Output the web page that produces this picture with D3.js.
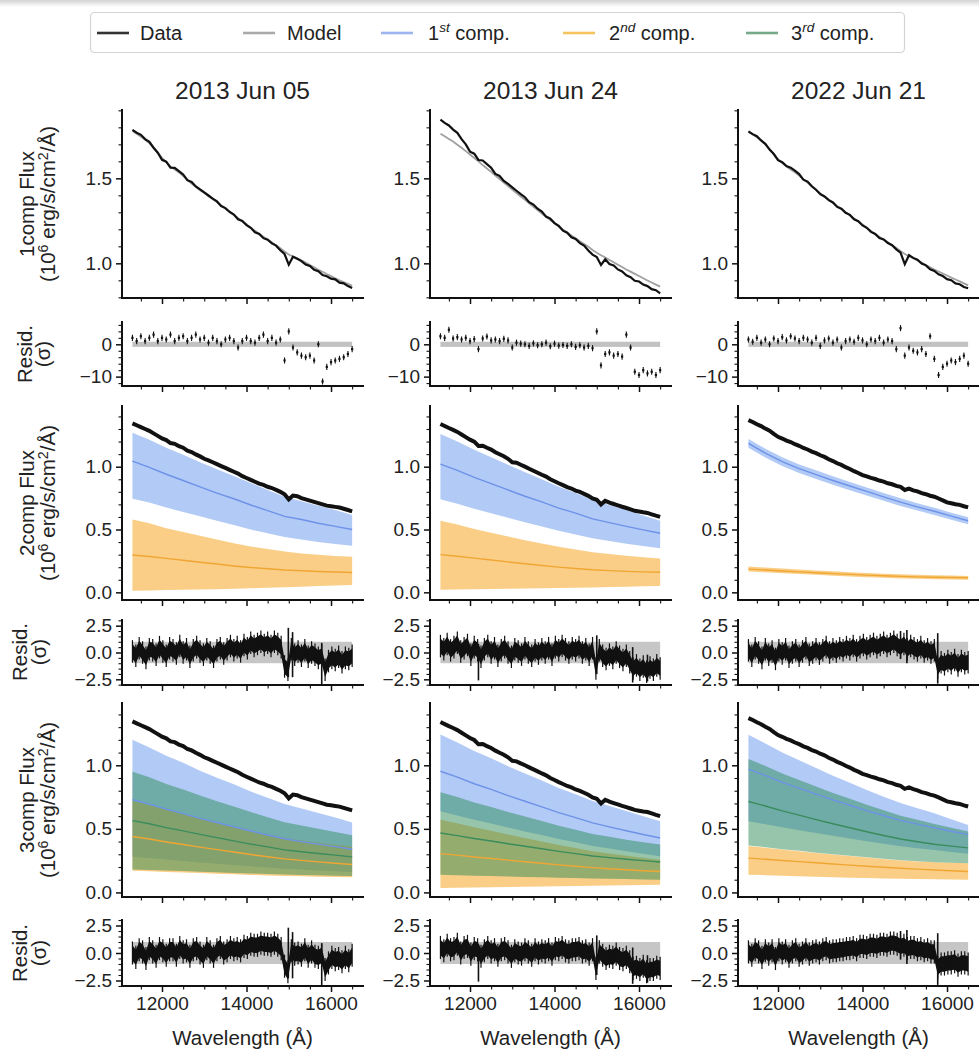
<!DOCTYPE html>
<html>
<head>
<meta charset="utf-8">
<script src="https://cdn.jsdelivr.net/npm/d3@7"></script>
<style>
  body { margin: 0; background: #ffffff; }
  svg text { font-family: "Liberation Sans", Arial, Helvetica, sans-serif; fill: #222; }
</style>
</head>
<body>
<svg id="fig" width="979" height="1051"></svg>
<script>
// ---------------- wavelength grids (Angstrom) ----------------
const waveFine = [11300,11400,11500,11600,11700,11800,11900,12000,12100,12200,
  12300,12400,12500,12600,12700,12800,12900,13000,13100,13200,
  13300,13400,13500,13600,13700,13800,13900,14000,14100,14200,
  14300,14400,14500,14600,14700,14800,14900,15000,15100,15200,
  15300,15400,15500,15600,15700,15800,15900,16000,16100,16200,
  16300,16400,16500];
const waveComp = [11300,11700,12100,12500,12900,13300,13700,14100,14500,14900,15300,15700,16100,16500];
const waveResid = [11300,11380,11460,11540,11620,11700,11780,11860,11940,12020,
  12100,12180,12260,12340,12420,12500,12580,12660,12740,12820,
  12900,12980,13060,13140,13220,13300,13380,13460,13540,13620,
  13700,13780,13860,13940,14020,14100,14180,14260,14340,14420,
  14500,14580,14660,14740,14820,14900,14980,15060,15140,15220,
  15300,15380,15460,15540,15620,15700,15780,15860,15940,16020,
  16100,16180,16260,16340,16420,16500];

const epochTitles = ["2013 Jun 05", "2013 Jun 24", "2022 Jun 21"];

// ---------------- 2013 Jun 05 ----------------
const flux1cJun05 = [1.785,1.768,1.756,1.731,1.715,1.680,1.651,1.609,1.598,1.563,
  1.562,1.543,1.523,1.489,1.479,1.452,1.435,1.417,1.399,1.381,
  1.364,1.337,1.325,1.302,1.287,1.259,1.249,1.225,1.209,1.183,
  1.173,1.148,1.139,1.117,1.104,1.077,1.055,0.992,1.039,1.027,
  1.013,0.993,0.984,0.962,0.954,0.931,0.924,0.910,0.906,0.886,
  0.882,0.866,0.855];
const model1cJun05 = [1.778,1.762,1.745,1.727,1.707,1.681,1.650,1.620,1.595,1.570,
  1.552,1.535,1.514,1.490,1.470,1.450,1.430,1.413,1.394,1.378,
  1.360,1.341,1.323,1.305,1.286,1.266,1.248,1.230,1.210,1.191,
  1.174,1.156,1.140,1.124,1.107,1.089,1.070,1.052,1.040,1.030,
  1.018,1.004,0.990,0.976,0.962,0.950,0.937,0.925,0.912,0.900,
  0.890,0.879,0.868];
const resid1cJun05 = [2,1,2.5,1,2,3,1,2,1.5,3,
  1,2,2.5,1,2,3,1.5,2,0.5,2,
  1,0,1.5,2,1,-1,1,2,1,0.5,
  2,3,1,2,0.5,1.5,-5,4,-1,-2.5,
  -3.5,-4,-3.5,-5,0,-11.5,-7,-5.5,-5,-4.5,
  -4,-3,-1.5];
const fluxJun05 = [1.345,1.330,1.315,1.300,1.285,1.265,1.245,1.225,1.212,1.188,
  1.182,1.163,1.151,1.128,1.117,1.098,1.082,1.063,1.050,1.035,
  1.020,1.005,0.990,0.975,0.960,0.945,0.925,0.910,0.895,0.880,
  0.865,0.855,0.840,0.830,0.815,0.800,0.780,0.740,0.770,0.765,
  0.750,0.740,0.730,0.720,0.710,0.700,0.690,0.685,0.680,0.675,
  0.665,0.655,0.645];
// two-component fit: [lower, median, upper]
const twoC1Jun05 = [
  [0.745,0.715,0.675,0.640,0.605,0.570,0.535,0.500,0.470,0.440,0.420,0.400,0.385,0.370],
  [1.045,0.995,0.940,0.890,0.840,0.790,0.745,0.695,0.650,0.605,0.580,0.550,0.525,0.500],
  [1.270,1.215,1.150,1.095,1.035,0.980,0.925,0.870,0.815,0.760,0.725,0.690,0.655,0.615]];
const twoC2Jun05 = [
  [0.012,0.014,0.018,0.020,0.022,0.025,0.028,0.032,0.036,0.040,0.045,0.050,0.054,0.058],
  [0.297,0.285,0.270,0.255,0.240,0.225,0.210,0.198,0.188,0.178,0.172,0.166,0.162,0.158],
  [0.580,0.550,0.510,0.480,0.450,0.420,0.390,0.365,0.345,0.325,0.310,0.300,0.290,0.283]];
// three-component fit
const threeC1Jun05 = [
  [0.280,0.270,0.258,0.248,0.236,0.226,0.215,0.205,0.196,0.187,0.180,0.173,0.166,0.160],
  [0.730,0.695,0.655,0.620,0.583,0.550,0.517,0.483,0.452,0.422,0.400,0.380,0.360,0.340],
  [1.200,1.140,1.075,1.020,0.958,0.903,0.850,0.793,0.745,0.695,0.660,0.625,0.590,0.550]];
const threeC2Jun05 = [
  [0.170,0.166,0.161,0.157,0.152,0.147,0.143,0.138,0.134,0.130,0.127,0.124,0.122,0.120],
  [0.440,0.420,0.397,0.377,0.356,0.337,0.318,0.298,0.281,0.264,0.252,0.240,0.230,0.220],
  [0.720,0.688,0.650,0.618,0.583,0.550,0.518,0.485,0.457,0.428,0.408,0.390,0.375,0.360]];
const threeC3Jun05 = [
  [0.180,0.177,0.172,0.168,0.163,0.158,0.153,0.149,0.145,0.141,0.138,0.135,0.132,0.130],
  [0.565,0.540,0.510,0.484,0.457,0.431,0.405,0.380,0.358,0.335,0.320,0.306,0.293,0.280],
  [0.950,0.905,0.853,0.810,0.762,0.718,0.676,0.632,0.592,0.552,0.526,0.500,0.475,0.450]];
const resid2cJun05 = [0.1,-0.3,0.4,0.0,-0.5,0.3,0.2,-0.2,0.5,0.1,
  -0.3,0.4,0.2,-0.1,0.6,0.0,0.3,-0.4,0.2,0.5,
  0.1,-0.2,0.3,0.0,-0.4,0.2,0.4,-0.1,0.3,0.6,
  0.2,0.5,0.1,0.7,0.4,0.9,0.6,0.8,1.0,0.7,
  0.9,0.6,1.0,0.8,0.5,-1.3,-1.6,0.3,-0.2,0.1,
  -0.3,0.2,-0.4,0.0,-0.2,-0.5,-0.3,-1.6,-0.8,-0.5,
  -0.7,-0.4,-0.9,-0.5,-0.6,-0.3];
const resid3cJun05 = [0.0,-0.4,0.3,0.1,-0.5,0.4,0.1,-0.3,0.4,0.2,
  -0.2,0.3,0.3,-0.2,0.5,0.1,0.2,-0.3,0.3,0.4,
  0.0,-0.3,0.4,0.1,-0.3,0.3,0.5,0.0,0.2,0.5,
  0.3,0.4,0.2,0.6,0.5,0.8,0.7,0.7,0.9,0.8,
  0.8,0.7,0.9,0.7,0.4,-1.2,-1.7,0.2,-0.1,0.0,
  -0.2,0.3,-0.3,0.1,-0.3,-0.4,-0.2,-1.5,-0.9,-0.4,
  -0.6,-0.5,-0.8,-0.4,-0.7,-0.2];
// long error bars at bad pixels: [wavelength, low, high]
const spikesJun05 = [[14990,-2.3,2.3],[15090,-2.3,1.9],[15780,-3.0,0.9]];

// ---------------- 2013 Jun 24 ----------------
const flux1cJun24 = [1.845,1.826,1.811,1.787,1.768,1.731,1.700,1.657,1.645,1.608,
  1.605,1.584,1.562,1.526,1.514,1.485,1.467,1.447,1.427,1.407,
  1.389,1.360,1.346,1.321,1.305,1.275,1.263,1.237,1.220,1.192,
  1.180,1.153,1.143,1.119,1.104,1.075,1.051,1.037,0.990,1.024,
  0.996,0.987,0.964,0.952,0.930,0.918,0.897,0.893,0.875,0.866,
  0.848,0.842,0.823];
const model1cJun24 = [1.762,1.748,1.732,1.716,1.698,1.680,1.660,1.640,1.620,1.600,
  1.578,1.558,1.538,1.516,1.496,1.475,1.454,1.434,1.413,1.393,
  1.373,1.353,1.333,1.313,1.293,1.273,1.254,1.236,1.217,1.199,
  1.181,1.164,1.147,1.130,1.114,1.098,1.078,1.062,1.048,1.034,
  1.020,1.006,0.992,0.978,0.964,0.951,0.938,0.925,0.912,0.899,
  0.887,0.875,0.863];
const resid1cJun24 = [2.5,2.0,4.5,1.8,2.2,1.5,2.0,1.0,1.6,-1.5,
  1.8,2.4,1.2,1.5,1.0,1.7,1.2,-1.0,0.5,0.2,
  0.0,-0.5,0.3,-0.3,0.0,0.5,-0.6,0.2,-0.4,-0.2,
  -0.5,0.0,-0.8,-0.3,-1.0,-0.5,-1.2,4.0,-6.5,-3.0,
  -2.5,-3.5,-3.0,-3.8,3.0,-1.0,-8.5,-9.5,-8.0,-9.0,
  -8.5,-9.5,-8.0];
const fluxJun24 = [1.340,1.324,1.308,1.293,1.277,1.256,1.235,1.215,1.199,1.165,
  1.167,1.151,1.136,1.115,1.099,1.083,1.063,1.035,1.031,1.015,
  1.000,0.984,0.968,0.952,0.936,0.921,0.900,0.884,0.868,0.853,
  0.837,0.826,0.810,0.799,0.784,0.768,0.747,0.737,0.700,0.729,
  0.714,0.703,0.692,0.681,0.671,0.660,0.649,0.643,0.637,0.632,
  0.621,0.610,0.600];
const twoC1Jun24 = [
  [0.740,0.705,0.665,0.630,0.593,0.557,0.523,0.490,0.460,0.430,0.408,0.387,0.368,0.350],
  [1.020,0.970,0.915,0.865,0.815,0.765,0.720,0.670,0.630,0.585,0.555,0.525,0.497,0.470],
  [1.260,1.200,1.135,1.075,1.015,0.955,0.900,0.840,0.790,0.735,0.695,0.655,0.612,0.570]];
const twoC2Jun24 = [
  [0.020,0.022,0.024,0.026,0.028,0.030,0.032,0.034,0.036,0.039,0.042,0.045,0.048,0.050],
  [0.300,0.287,0.272,0.257,0.242,0.228,0.214,0.201,0.190,0.180,0.173,0.167,0.163,0.160],
  [0.570,0.540,0.505,0.475,0.445,0.415,0.388,0.362,0.340,0.320,0.305,0.292,0.280,0.270]];
const threeC1Jun24 = [
  [0.638,0.606,0.572,0.542,0.510,0.480,0.451,0.421,0.394,0.366,0.345,0.324,0.304,0.284],
  [0.953,0.907,0.855,0.810,0.762,0.717,0.673,0.628,0.588,0.547,0.516,0.485,0.456,0.428],
  [1.242,1.180,1.112,1.055,0.993,0.935,0.880,0.822,0.772,0.720,0.680,0.640,0.600,0.560]];
const threeC2Jun24 = [
  [0.035,0.037,0.039,0.041,0.043,0.045,0.047,0.049,0.051,0.053,0.055,0.057,0.058,0.060],
  [0.305,0.293,0.279,0.267,0.254,0.241,0.229,0.217,0.206,0.195,0.186,0.178,0.171,0.165],
  [0.572,0.545,0.513,0.486,0.456,0.428,0.401,0.373,0.349,0.324,0.306,0.289,0.273,0.257]];
const threeC3Jun24 = [
  [0.139,0.136,0.132,0.129,0.126,0.122,0.119,0.116,0.113,0.110,0.107,0.105,0.102,0.100],
  [0.467,0.447,0.424,0.405,0.383,0.363,0.344,0.323,0.305,0.287,0.274,0.261,0.250,0.239],
  [0.787,0.750,0.708,0.672,0.633,0.597,0.562,0.525,0.493,0.460,0.437,0.415,0.395,0.376]];
const resid2cJun24 = [0.6,0.3,0.8,0.2,0.5,0.9,0.1,0.4,0.7,-0.2,
  0.5,0.2,-0.4,0.3,0.6,0.0,0.4,-0.3,0.2,0.5,
  0.0,-0.4,0.3,0.1,-0.2,0.4,0.0,-0.3,0.2,-0.1,
  0.3,0.0,0.4,-0.2,0.5,0.2,0.6,0.3,0.0,0.4,
  0.2,0.5,0.0,0.3,-0.2,0.4,-1.5,0.2,-0.3,-0.6,
  -0.2,-0.5,0.0,-0.4,-0.7,-0.3,-0.9,-1.5,-1.2,-1.6,
  -1.3,-1.8,-1.4,-1.6,-1.2,-1.5];
const resid3cJun24 = [0.5,0.2,0.7,0.3,0.4,0.8,0.0,0.5,0.6,-0.1,
  0.4,0.3,-0.3,0.2,0.5,0.1,0.3,-0.2,0.3,0.4,
  0.1,-0.3,0.2,0.0,-0.1,0.3,0.1,-0.2,0.3,0.0,
  0.2,0.1,0.3,-0.1,0.4,0.3,0.5,0.2,0.1,0.3,
  0.3,0.4,0.1,0.2,-0.1,0.3,-1.4,0.1,-0.2,-0.5,
  -0.3,-0.4,-0.1,-0.5,-0.6,-0.4,-0.8,-1.4,-1.3,-1.5,
  -1.2,-1.7,-1.5,-1.5,-1.3,-1.4];
const spikesJun24 = [[12200,-2.6,0.8],[15000,-2.0,1.6],[15850,-2.8,0.5],[16200,-2.7,-0.2]];

// ---------------- 2022 Jun 21 ----------------
const flux1cJun21 = [1.776,1.760,1.748,1.723,1.703,1.669,1.643,1.607,1.595,1.572,
  1.563,1.545,1.525,1.492,1.481,1.453,1.433,1.407,1.393,1.372,
  1.358,1.332,1.321,1.297,1.285,1.259,1.248,1.223,1.209,1.185,
  1.173,1.149,1.141,1.119,1.107,1.082,1.063,0.995,1.048,1.032,
  1.021,0.999,0.988,0.965,0.955,0.935,0.925,0.907,0.901,0.882,
  0.877,0.861,0.853];
const model1cJun21 = [1.773,1.758,1.741,1.722,1.698,1.672,1.642,1.612,1.590,1.570,
  1.552,1.536,1.516,1.494,1.474,1.453,1.432,1.413,1.393,1.375,
  1.356,1.337,1.319,1.301,1.283,1.264,1.246,1.228,1.209,1.191,
  1.173,1.156,1.140,1.124,1.107,1.090,1.072,1.055,1.042,1.030,
  1.017,1.004,0.990,0.977,0.964,0.952,0.940,0.928,0.916,0.905,
  0.894,0.882,0.870];
const resid1cJun21 = [1.5,0.8,2.0,0.5,1.5,0.0,1.8,1.0,2.2,1.2,
  2.5,1.8,1.0,2.0,1.5,0.5,2.0,-0.5,1.2,1.8,
  0.5,1.5,-1.0,1.0,1.5,0.8,2.0,1.2,0.0,1.5,
  1.0,2.0,0.5,1.5,1.0,-1.5,5.0,-3.5,-1.0,-2.0,
  -2.5,-1.5,-3.0,2.5,-4.5,-9.5,-7.0,-6.0,-5.0,-5.5,
  -4.5,-3.5,-6.0];
const fluxJun21 = [1.371,1.356,1.338,1.323,1.303,1.286,1.261,1.238,1.224,1.208,
  1.196,1.179,1.166,1.149,1.137,1.120,1.108,1.091,1.078,1.059,
  1.045,1.027,1.014,0.996,0.982,0.964,0.950,0.933,0.923,0.911,
  0.902,0.890,0.881,0.868,0.860,0.847,0.839,0.815,0.826,0.812,
  0.803,0.789,0.781,0.769,0.761,0.747,0.732,0.716,0.709,0.701,
  0.696,0.685,0.676];
const twoC1Jun21 = [
  [1.150,1.073,1.005,0.950,0.903,0.857,0.813,0.771,0.729,0.688,0.651,0.616,0.578,0.542],
  [1.185,1.108,1.040,0.984,0.937,0.890,0.846,0.803,0.760,0.718,0.680,0.645,0.606,0.570],
  [1.220,1.143,1.075,1.018,0.971,0.923,0.879,0.835,0.791,0.748,0.709,0.674,0.634,0.598]];
const twoC2Jun21 = [
  [0.165,0.159,0.152,0.145,0.139,0.132,0.126,0.121,0.116,0.111,0.108,0.105,0.103,0.101],
  [0.185,0.178,0.170,0.163,0.156,0.149,0.143,0.137,0.132,0.127,0.123,0.120,0.118,0.116],
  [0.205,0.197,0.189,0.181,0.174,0.167,0.160,0.154,0.148,0.143,0.139,0.136,0.133,0.131]];
const threeC1Jun21 = [
  [0.560,0.537,0.512,0.490,0.467,0.445,0.424,0.402,0.383,0.364,0.348,0.333,0.318,0.305],
  [0.970,0.920,0.866,0.820,0.773,0.728,0.686,0.643,0.605,0.567,0.537,0.508,0.481,0.455],
  [1.240,1.172,1.100,1.040,0.978,0.918,0.862,0.805,0.753,0.703,0.662,0.622,0.575,0.530]];
const threeC2Jun21 = [
  [0.140,0.136,0.131,0.127,0.123,0.119,0.116,0.113,0.110,0.107,0.105,0.103,0.101,0.100],
  [0.270,0.261,0.251,0.242,0.233,0.224,0.215,0.206,0.198,0.190,0.183,0.176,0.170,0.165],
  [0.365,0.352,0.337,0.324,0.311,0.298,0.286,0.274,0.263,0.252,0.244,0.237,0.233,0.230]];
const threeC3Jun21 = [
  [0.370,0.356,0.340,0.327,0.313,0.300,0.288,0.276,0.264,0.253,0.245,0.238,0.234,0.230],
  [0.715,0.680,0.641,0.608,0.573,0.540,0.509,0.477,0.448,0.420,0.399,0.379,0.364,0.350],
  [1.050,0.995,0.936,0.885,0.833,0.783,0.737,0.689,0.646,0.604,0.571,0.539,0.509,0.480]];
const resid2cJun21 = [0.2,-0.3,0.4,0.0,-0.5,0.3,-0.2,0.1,-0.6,0.2,
  -0.1,0.3,-0.4,0.0,0.2,-0.3,0.1,0.4,-0.2,0.0,
  0.3,-0.1,0.2,0.5,0.0,0.3,0.1,0.4,0.2,0.5,
  0.3,0.6,0.2,0.5,0.7,0.4,0.6,0.8,0.5,0.7,
  0.9,0.6,0.8,1.0,0.7,0.5,0.8,0.3,0.6,0.4,
  0.2,0.5,0.1,0.3,0.0,0.2,-1.4,-0.9,-1.1,-0.8,
  -1.0,-0.7,-1.2,-0.8,-1.0,-0.9];
const resid3cJun21 = [0.1,-0.2,0.3,0.1,-0.4,0.2,-0.1,0.2,-0.5,0.3,
  0.0,0.2,-0.3,0.1,0.3,-0.2,0.0,0.3,-0.1,0.1,
  0.2,0.0,0.3,0.4,0.1,0.2,0.2,0.3,0.3,0.4,
  0.4,0.5,0.3,0.6,0.6,0.5,0.7,0.7,0.6,0.8,
  0.8,0.7,0.9,0.9,0.8,0.6,0.7,0.4,0.5,0.5,
  0.3,0.4,0.2,0.3,0.1,0.1,-1.3,-1.0,-1.0,-0.9,
  -0.9,-0.8,-1.1,-0.9,-0.9,-1.0];
const spikesJun21 = [[14900,-0.6,2.0],[15050,-1.0,2.1],[15780,-2.9,1.8]];

// ---------------- axis ticks ----------------
const xMajorTicks = [12000, 14000, 16000];
const xMinorTicks = [11500, 12500, 13000, 13500, 14500, 15000, 15500, 16500];
const fluxTicks1c = [1.0, 1.5];
const fluxMinor1c = [0.8, 0.9, 1.1, 1.2, 1.3, 1.4, 1.6, 1.7, 1.8, 1.9];
const residTicks1c = [-10, 0];
const residMinor1c = [-12, -8, -6, -4, -2, 2, 4, 6];
const fluxTicks = [0.0, 0.5, 1.0];
const fluxMinor = [0.1, 0.2, 0.3, 0.4, 0.6, 0.7, 0.8, 0.9, 1.1, 1.2, 1.3, 1.4];
const residTicks = [-2.5, 0.0, 2.5];
const residMinor = [-3, -2, -1.5, -1, -0.5, 0.5, 1, 1.5, 2, 3];

// ---------------- assembled per-epoch table ----------------
const epochs = [
  { title: epochTitles[0], flux1c: flux1cJun05, model1c: model1cJun05, resid1c: resid1cJun05, flux: fluxJun05,
    two: [twoC1Jun05, twoC2Jun05], three: [threeC1Jun05, threeC2Jun05, threeC3Jun05],
    resid2c: resid2cJun05, resid3c: resid3cJun05, spikes: spikesJun05 },
  { title: epochTitles[1], flux1c: flux1cJun24, model1c: model1cJun24, resid1c: resid1cJun24, flux: fluxJun24,
    two: [twoC1Jun24, twoC2Jun24], three: [threeC1Jun24, threeC2Jun24, threeC3Jun24],
    resid2c: resid2cJun24, resid3c: resid3cJun24, spikes: spikesJun24 },
  { title: epochTitles[2], flux1c: flux1cJun21, model1c: model1cJun21, resid1c: resid1cJun21, flux: fluxJun21,
    two: [twoC1Jun21, twoC2Jun21], three: [threeC1Jun21, threeC2Jun21, threeC3Jun21],
    resid2c: resid2cJun21, resid3c: resid3cJun21, spikes: spikesJun21 }
];

// ---------------- layout & style ----------------
const colLeft = [122, 430, 738];
const panelW = 241;
const rows = [
  { top: 110, bottom: 298, domain: [0.796, 1.902], major: fluxTicks1c, minor: fluxMinor1c, fmt: ".1f" },
  { top: 322, bottom: 386, domain: [-12.9, 6.9], major: residTicks1c, minor: residMinor1c, fmt: "d" },
  { top: 406, bottom: 600, domain: [-0.061, 1.483], major: fluxTicks, minor: fluxMinor, fmt: ".1f" },
  { top: 620, bottom: 685, domain: [-3.03, 3.03], major: residTicks, minor: residMinor, fmt: ".1f" },
  { top: 703, bottom: 897, domain: [-0.036, 1.49], major: fluxTicks, minor: fluxMinor, fmt: ".1f" },
  { top: 920, bottom: 986, domain: [-3.0, 3.0], major: residTicks, minor: residMinor, fmt: ".1f" }
];
const compFill = ["#6495ed", "#f5a623", "#2e8b57"];
const compLine = ["#6e92e8", "#f0a633", "#3a8c5c"];
const TICK_FONT = 19, LABEL_FONT = 20.5, TITLE_FONT = 24.5, LEGEND_FONT = 20;

const svg = d3.select("#fig");
const x = d3.scaleLinear().domain([11053, 16757]).range([0, panelW]);

// faint shading along the top edge
const defs = svg.append("defs");
const shade = defs.append("linearGradient").attr("id", "topShade")
  .attr("x1", 0).attr("y1", 0).attr("x2", 0).attr("y2", 1);
shade.append("stop").attr("offset", "0%").attr("stop-color", "#d2d2d2");
shade.append("stop").attr("offset", "100%").attr("stop-color", "#ffffff");
svg.append("rect").attr("x", 0).attr("y", 0).attr("width", 979).attr("height", 7).attr("fill", "url(#topShade)");

function drawAxes(g, row, yScale, showXLabels) {
  // minor ticks
  g.append("g").call(d3.axisLeft(yScale).tickValues(row.minor).tickSize(3.5).tickFormat(""))
    .call(s => s.select(".domain").remove())
    .call(s => s.selectAll("line").attr("stroke", "#111").attr("stroke-width", 1.1));
  g.append("g").attr("transform", `translate(0,${row.bottom})`)
    .call(d3.axisBottom(x).tickValues(xMinorTicks).tickSize(3.5).tickFormat(""))
    .call(s => s.select(".domain").remove())
    .call(s => s.selectAll("line").attr("stroke", "#111").attr("stroke-width", 1.1));
  // major ticks
  const ya = g.append("g").call(d3.axisLeft(yScale).tickValues(row.major).tickSize(6).tickPadding(4)
      .tickFormat(d3.format(row.fmt)))
    .attr("font-size", null).attr("font-family", null);
  ya.select(".domain").remove();
  ya.selectAll("line").attr("stroke", "#111").attr("stroke-width", 1.5);
  ya.selectAll("text").attr("font-size", TICK_FONT).attr("fill", "#222");
  const xa = g.append("g").attr("transform", `translate(0,${row.bottom})`)
    .call(d3.axisBottom(x).tickValues(xMajorTicks).tickSize(6).tickPadding(5)
      .tickFormat(showXLabels ? d3.format("d") : ""))
    .attr("font-size", null).attr("font-family", null);
  xa.select(".domain").remove();
  xa.selectAll("line").attr("stroke", "#111").attr("stroke-width", 1.5);
  xa.selectAll("text").attr("font-size", TICK_FONT).attr("fill", "#222");
  // left and bottom spines
  g.append("line").attr("x1", 0).attr("x2", 0).attr("y1", row.top).attr("y2", row.bottom)
    .attr("stroke", "#111").attr("stroke-width", 2).attr("stroke-linecap", "square");
  g.append("line").attr("x1", 0).attr("x2", panelW).attr("y1", row.bottom).attr("y2", row.bottom)
    .attr("stroke", "#111").attr("stroke-width", 2).attr("stroke-linecap", "square");
}

function yOf(row) {
  return d3.scaleLinear().domain(row.domain).range([row.bottom, row.top]);
}

function drawComponents(g, y, comps) {
  comps.forEach((c, i) => {
    const pts = waveComp.map((w, k) => ({ w, lo: c[0][k], med: c[1][k], hi: c[2][k] }));
    g.append("path").datum(pts)
      .attr("d", d3.area().x(d => x(d.w)).y0(d => y(d.lo)).y1(d => y(d.hi)))
      .attr("fill", compFill[i]).attr("fill-opacity", i === 1 ? 0.55 : 0.5);
  });
  comps.forEach((c, i) => {
    const pts = waveComp.map((w, k) => ({ w, v: c[1][k] }));
    g.append("path").datum(pts)
      .attr("d", d3.line().x(d => x(d.w)).y(d => y(d.v)))
      .attr("fill", "none").attr("stroke", compLine[i]).attr("stroke-width", 1.4);
  });
}

function drawDense(g, y, resid, spikes) {
  const pts = waveResid.map((w, k) => ({ w, r: resid[k] }));
  g.append("rect").attr("x", x(11300)).attr("width", x(16500) - x(11300))
    .attr("y", y(1)).attr("height", y(-1) - y(1)).attr("fill", "#c6c6c6");
  g.append("path").datum(pts)
    .attr("d", d3.area().x(d => x(d.w)).y0(d => y(d.r - 0.7)).y1(d => y(d.r + 0.7)))
    .attr("fill", "#111");
  g.selectAll(null).data(pts).join("line")
    .attr("x1", d => x(d.w)).attr("x2", d => x(d.w))
    .attr("y1", d => y(d.r - 1.05)).attr("y2", d => y(d.r + 1.05))
    .attr("stroke", "#111").attr("stroke-width", 1.2);
  g.selectAll(null).data(spikes).join("line")
    .attr("x1", d => x(d[0])).attr("x2", d => x(d[0]))
    .attr("y1", d => y(d[1])).attr("y2", d => y(d[2]))
    .attr("stroke", "#111").attr("stroke-width", 1.6);
}

epochs.forEach((ep, c) => {
  const g = svg.append("g").attr("transform", `translate(${colLeft[c]},0)`);

  g.append("text").attr("x", panelW / 2).attr("y", 99).attr("text-anchor", "middle")
    .attr("font-size", TITLE_FONT).text(ep.title);

  // row 1: one-component fit
  {
    const row = rows[0], y = yOf(row);
    const line = d3.line().x(d => x(d.w)).y(d => y(d.v));
    g.append("path").datum(waveFine.map((w, k) => ({ w, v: ep.model1c[k] })))
      .attr("d", line).attr("fill", "none").attr("stroke", "#a0a0a0").attr("stroke-width", 1.8);
    g.append("path").datum(waveFine.map((w, k) => ({ w, v: ep.flux1c[k] })))
      .attr("d", line).attr("fill", "none").attr("stroke", "#111").attr("stroke-width", 2.2);
    drawAxes(g, row, y, false);
  }
  // row 2: one-component residuals
  {
    const row = rows[1], y = yOf(row);
    g.append("rect").attr("x", x(11300)).attr("width", x(16500) - x(11300))
      .attr("y", y(0.8)).attr("height", y(-0.8) - y(0.8)).attr("fill", "#c2c2c2");
    const pts = waveFine.map((w, k) => ({ w, r: ep.resid1c[k] }));
    g.selectAll(null).data(pts).join("line")
      .attr("x1", d => x(d.w)).attr("x2", d => x(d.w))
      .attr("y1", d => y(d.r - 0.95)).attr("y2", d => y(d.r + 0.95))
      .attr("stroke", "#111").attr("stroke-width", 1.1);
    g.selectAll(null).data(pts).join("rect")
      .attr("x", d => x(d.w) - 1.1).attr("y", d => y(d.r) - 1.1)
      .attr("width", 2.2).attr("height", 2.2).attr("fill", "#111");
    drawAxes(g, row, y, false);
  }
  // row 3: two-component fit
  {
    const row = rows[2], y = yOf(row);
    drawComponents(g, y, ep.two);
    g.append("path").datum(waveFine.map((w, k) => ({ w, v: ep.flux[k] })))
      .attr("d", d3.line().x(d => x(d.w)).y(d => y(d.v)))
      .attr("fill", "none").attr("stroke", "#111").attr("stroke-width", 4);
    drawAxes(g, row, y, false);
  }
  // row 4: two-component residuals
  {
    const row = rows[3], y = yOf(row);
    drawDense(g, y, ep.resid2c, ep.spikes);
    drawAxes(g, row, y, false);
  }
  // row 5: three-component fit
  {
    const row = rows[4], y = yOf(row);
    drawComponents(g, y, ep.three);
    g.append("path").datum(waveFine.map((w, k) => ({ w, v: ep.flux[k] })))
      .attr("d", d3.line().x(d => x(d.w)).y(d => y(d.v)))
      .attr("fill", "none").attr("stroke", "#111").attr("stroke-width", 4);
    drawAxes(g, row, y, false);
  }
  // row 6: three-component residuals
  {
    const row = rows[5], y = yOf(row);
    drawDense(g, y, ep.resid3c, ep.spikes);
    drawAxes(g, row, y, true);
  }

  g.append("text").attr("x", panelW / 2).attr("y", 1045).attr("text-anchor", "middle")
    .attr("font-size", LABEL_FONT).text("Wavelength (Å)");
});

// ---------------- y-axis labels ----------------
function yLabel(cy, lines) {
  lines.forEach(ln => {
    const t = svg.append("text")
      .attr("transform", `translate(${ln.x},${cy}) rotate(-90)`)
      .attr("text-anchor", "middle").attr("font-size", LABEL_FONT);
    ln.parts.forEach(p => {
      const s = t.append("tspan").text(p.t);
      if (p.sup) s.attr("font-size", LABEL_FONT * 0.7).attr("dy", -7);
      if (p.after) s.attr("dy", 7);
    });
  });
}
const unitParts = [{ t: "(10" }, { t: "6", sup: true }, { t: " erg/s/cm", after: true }, { t: "2", sup: true }, { t: "/Å)", after: true }];
yLabel(204, [{ x: 34, parts: [{ t: "1comp Flux" }] }, { x: 55, parts: unitParts }]);
yLabel(354, [{ x: 32, parts: [{ t: "Resid." }] }, { x: 50, parts: [{ t: "(σ)" }] }]);
yLabel(503, [{ x: 34, parts: [{ t: "2comp Flux" }] }, { x: 55, parts: unitParts }]);
yLabel(652, [{ x: 27, parts: [{ t: "Resid." }] }, { x: 46, parts: [{ t: "(σ)" }] }]);
yLabel(800, [{ x: 34, parts: [{ t: "3comp Flux" }] }, { x: 55, parts: unitParts }]);
yLabel(953, [{ x: 27, parts: [{ t: "Resid." }] }, { x: 46, parts: [{ t: "(σ)" }] }]);

// ---------------- legend ----------------
const legendItems = [
  { color: "#333333", x1: 97, tx: 140, parts: [{ t: "Data" }] },
  { color: "#aaaaaa", x1: 243, tx: 287, parts: [{ t: "Model" }] },
  { color: "#9db4ef", x1: 381, tx: 428, parts: [{ t: "1" }, { t: "st", sup: true }, { t: " comp.", after: true }] },
  { color: "#f5c45e", x1: 563, tx: 609, parts: [{ t: "2" }, { t: "nd", sup: true }, { t: " comp.", after: true }] },
  { color: "#74aa88", x1: 746, tx: 791, parts: [{ t: "3" }, { t: "rd", sup: true }, { t: " comp.", after: true }] }
];
const lg = svg.append("g");
lg.append("rect").attr("x", 90.5).attr("y", 12.5).attr("width", 814).attr("height", 40).attr("rx", 4)
  .attr("fill", "#fff").attr("stroke", "#d4d4d4").attr("stroke-width", 1.2);
legendItems.forEach(it => {
  lg.append("line").attr("x1", it.x1).attr("x2", it.x1 + 32).attr("y1", 33).attr("y2", 33)
    .attr("stroke", it.color).attr("stroke-width", 2.6);
  const t = lg.append("text").attr("x", it.tx).attr("y", 40).attr("font-size", LEGEND_FONT);
  it.parts.forEach(p => {
    const s = t.append("tspan").text(p.t);
    if (p.sup) s.attr("font-size", LEGEND_FONT * 0.68).attr("dy", -8).attr("font-style", "italic");
    if (p.after) s.attr("dy", 8);
  });
});
</script>
</body>
</html>
